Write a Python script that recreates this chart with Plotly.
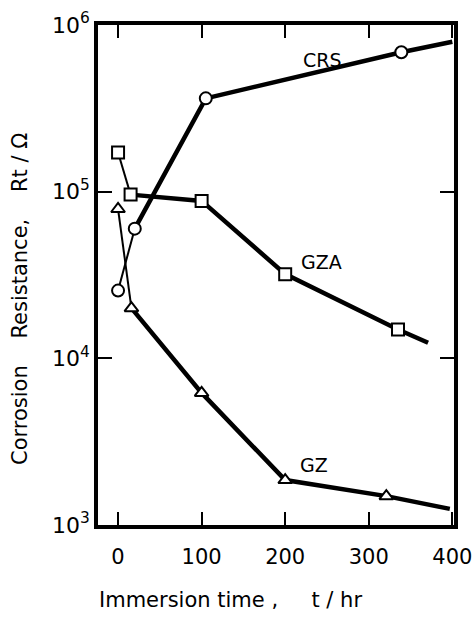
import math
import plotly.graph_objects as go

# ---- data ----
crs_t = [0, 20, 105, 339, 400]
crs_r = [25500, 60000, 363000, 686000, 794000]
crs_marked = [True, True, True, True, False]

gza_t = [0, 15, 100, 200, 335, 371]
gza_r = [172000, 96000, 88000, 32000, 14900, 12400]
gza_marked = [True, True, True, True, True, False]

gz_t = [0, 16, 100, 200, 321, 397]
gz_r = [78700, 20000, 6200, 1860, 1490, 1250]
gz_marked = [True, True, True, True, True, False]

x_ticks = [0, 100, 200, 300, 400]
x_ticklabels = ["0", "100", "200", "300", "400"]
y_ticks = [1e3, 1e4, 1e5, 1e6]
y_ticklabels = ["10<sup>3</sup>", "10<sup>4</sup>", "10<sup>5</sup>", "10<sup>6</sup>"]

series = [
    ("CRS", crs_t, crs_r, crs_marked, "circle", 12),
    ("GZA", gza_t, gza_r, gza_marked, "square", 12),
    ("GZ", gz_t, gz_r, gz_marked, "triangle-up", 12),
]

FONT = "DejaVu Sans"
fig = go.Figure()

for name, t, r, marked, sym, sz in series:
    # thin first segment
    fig.add_trace(go.Scatter(x=t[:2], y=r[:2], mode="lines",
                             line=dict(color="black", width=2), showlegend=False,
                             hoverinfo="skip"))
    # thick remaining segments
    fig.add_trace(go.Scatter(x=t[1:], y=r[1:], mode="lines",
                             line=dict(color="black", width=4.5), showlegend=False,
                             hoverinfo="skip"))
    mt = [a for a, m in zip(t, marked) if m]
    mr = [b for b, m in zip(r, marked) if m]
    fig.add_trace(go.Scatter(x=mt, y=mr, mode="markers", name=name,
                             marker=dict(symbol=sym, size=sz, color="white",
                                         line=dict(color="black", width=2)),
                             showlegend=False))

labels = [("CRS", 245, 6.2e5), ("GZA", 243, 3.8e4), ("GZ", 234, 2.29e3)]
for text, lx, ly in labels:
    fig.add_annotation(x=lx, y=math.log10(ly), text=text,
                       showarrow=False, font=dict(family=FONT, size=19, color="black"),
                       xanchor="center", yanchor="middle")

# axis titles as annotations (placed like the reference)
fig.add_annotation(xref="paper", yref="paper", x=0.371, y=-0.15,
                   text="Immersion time ,&nbsp;&nbsp;&nbsp;&nbsp;&nbsp;t / hr",
                   showarrow=False, xanchor="center", yanchor="middle",
                   font=dict(family=FONT, size=21, color="black"))
fig.add_annotation(xref="paper", yref="paper", x=-0.219, y=0.452,
                   text="Corrosion&nbsp;&nbsp;&nbsp;&nbsp;Resistance,&nbsp;&nbsp;&nbsp;&nbsp;Rt / Ω",
                   showarrow=False, xanchor="center", yanchor="middle", textangle=-90,
                   font=dict(family=FONT, size=21, color="black"))

fig.update_layout(
    width=473, height=617, autosize=False,
    margin=dict(l=98, r=19, t=25, b=92),
    paper_bgcolor="white", plot_bgcolor="white",
    font=dict(family=FONT, color="black"),
    showlegend=False,
)
fig.update_xaxes(
    range=[-24, 402], tickvals=x_ticks, ticktext=x_ticklabels,
    ticks="inside", ticklen=13, tickwidth=2, tickcolor="black",
    showline=True, linewidth=3.5, linecolor="black", mirror="ticks",
    showgrid=False, zeroline=False, automargin=False,
    tickfont=dict(family=FONT, size=21, color="black"),
    ticklabelstandoff=10,
)
fig.update_yaxes(
    type="log", range=[3, 6], tickvals=y_ticks, ticktext=y_ticklabels,
    ticks="inside", ticklen=14, tickwidth=2, tickcolor="black",
    showline=True, linewidth=3.5, linecolor="black", mirror="ticks",
    showgrid=False, zeroline=False, automargin=False,
    tickfont=dict(family=FONT, size=22, color="black"),
    ticklabelstandoff=0,
)

fig.write_html("out.html")
